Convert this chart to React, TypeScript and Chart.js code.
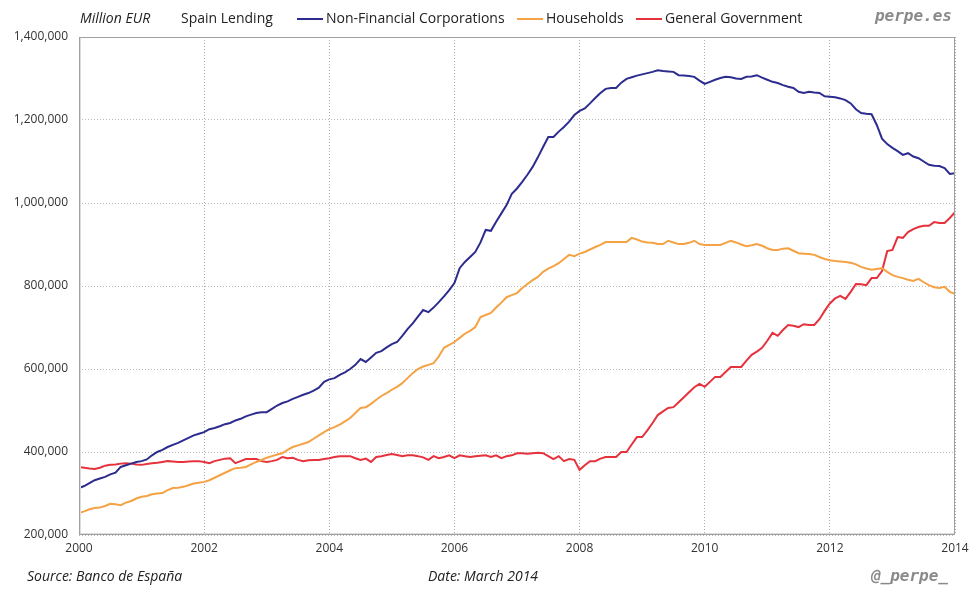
import React, { useEffect, useRef } from "react";
import { Chart, registerables } from "chart.js";

Chart.register(...registerables);

// Monthly values, Jan 2000 .. Jan 2014, in thousands of million EUR
const startYear = 2000;
const xTickYears = [2000, 2002, 2004, 2006, 2008, 2010, 2012, 2014];
const yTickValues = [200000, 400000, 600000, 800000, 1000000, 1200000, 1400000];

const nonFinancialCorporations = [
  313, 318, 325, 332, 336, 340, 346, 350, 364, 368, 372, 376,
  378, 382, 392, 400, 405, 412, 417, 422, 428, 434, 440, 444,
  448, 455, 458, 462, 467, 470, 476, 480, 486, 490, 494, 496,
  496, 504, 512, 518, 522, 528, 533, 538, 542, 548, 555, 569,
  575, 578, 586, 592, 600, 610, 624, 617, 628, 639, 643, 652,
  660, 665, 680, 696, 710, 726, 742, 737, 748, 761, 775, 790,
  807, 843, 858, 870, 882, 905, 935, 933, 955, 975, 995, 1022,
  1035, 1051, 1068, 1087, 1110, 1135, 1159, 1159, 1172, 1183, 1196, 1212,
  1222, 1228, 1240, 1253, 1265, 1275, 1277, 1277, 1290, 1299, 1303, 1307,
  1310, 1313, 1316, 1320, 1318, 1317, 1316, 1308, 1307, 1306, 1304, 1295,
  1287, 1292, 1297, 1301, 1304, 1303, 1300, 1299, 1304, 1305, 1308, 1302,
  1297, 1292, 1289, 1284, 1280, 1277, 1268, 1265, 1268, 1266, 1265, 1257,
  1256, 1255, 1252, 1248, 1240, 1226, 1217, 1215, 1214, 1188, 1155, 1142,
  1133, 1125, 1116, 1120, 1112, 1108, 1100, 1092, 1090, 1089, 1084, 1070,
  1072,
];

const households = [
  253, 257, 262, 265, 266, 270, 275, 274, 272, 278, 282, 288,
  292, 294, 298, 300, 301, 308, 313, 314, 316, 320, 324, 326,
  328, 332, 338, 344, 350, 356, 361, 362, 364, 370, 376, 381,
  386, 390, 394, 397, 405, 412, 416, 420, 424, 432, 440, 448,
  455, 460, 466, 474, 482, 494, 506, 508, 516, 526, 535, 542,
  550, 557, 566, 578, 590, 600, 606, 610, 614, 630, 651, 658,
  665, 675, 685, 692, 701, 725, 730, 735, 748, 760, 773, 778,
  783, 795, 805, 814, 822, 834, 842, 848, 855, 865, 875, 872,
  878, 882, 888, 894, 899, 906, 906, 906, 906, 906, 916, 912,
  907, 905, 904, 901, 901, 909, 905, 901, 901, 904, 909, 901,
  899, 899, 899, 899, 904, 909, 905, 900, 896, 898, 901, 897,
  891, 887, 887, 890, 891, 885, 879, 878, 877, 875, 870, 865,
  862, 860, 859, 858, 856, 852, 846, 842, 839, 841, 843, 834,
  826, 822, 819, 815, 812, 817, 809, 802, 797, 795, 798, 786,
  781,
];

const generalGovernment = [
  364, 362, 360, 359, 362, 367, 369, 370, 372, 373, 372, 370,
  369, 371, 373, 374, 376, 378, 377, 376, 376, 377, 378, 378,
  376, 373, 378, 381, 384, 385, 373, 378, 383, 383, 383, 378,
  376, 378, 381, 388, 385, 386, 381, 378, 380, 381, 381, 383,
  385, 388, 390, 390, 390, 385, 381, 384, 376, 388, 390, 393,
  395, 393, 390, 392, 392, 390, 387, 381, 390, 385, 388, 392,
  385, 392, 390, 388, 390, 391, 392, 388, 392, 385, 390, 392,
  397, 397, 396, 397, 398, 397, 390, 383, 390, 378, 383, 381,
  357, 368, 378, 378, 384, 388, 388, 388, 400, 400, 418, 436,
  436, 452, 470, 489, 498, 506, 508, 520, 532, 544, 556, 564,
  557, 569, 581, 581, 593, 605, 605, 605, 620, 634, 642, 651,
  668, 687, 680, 694, 706, 704, 701, 708, 706, 706, 720, 740,
  758, 770, 776, 769, 786, 805, 804, 802, 819, 819, 836, 884,
  887, 918, 916, 930, 937, 942, 945, 945, 954, 952, 952, 964,
  978,
];

const seriesNames = ["Non-Financial Corporations", "Households", "General Government"];
const seriesColors = ["#2c2c8e", "#f4a244", "#e5323c"];
const seriesValues = [nonFinancialCorporations, households, generalGovernment];

const FONT = "'Open Sans', 'DejaVu Sans', sans-serif";
const MONO = "'DejaVu Sans Mono', monospace";

const toPoints = (arr: number[]) =>
  arr.map((v, i) => ({ x: startYear + i / 12, y: v * 1000 }));

const decorPlugin = {
  id: "decor",
  afterDraw(chart: any) {
    const { ctx, chartArea } = chart;
    const { left, top, right, bottom } = chartArea;
    ctx.save();
    // plot border
    ctx.strokeStyle = "#a0a0a0";
    ctx.lineWidth = 1;
    ctx.strokeRect(left + 0.5, top + 0.5, right - left - 1, bottom - top - 1);
    ctx.strokeStyle = "#dcdcdc";
    ctx.beginPath();
    ctx.moveTo(left + 1.5, top + 1);
    ctx.lineTo(left + 1.5, bottom - 1);
    ctx.moveTo(left + 1, bottom - 1.5);
    ctx.lineTo(right - 1, bottom - 1.5);
    ctx.stroke();

    ctx.textBaseline = "middle";
    ctx.fillStyle = "#222";
    ctx.font = `italic 14px ${FONT}`;
    ctx.textAlign = "left";
    ctx.fillText("Million EUR", 80, 19);
    ctx.font = `14px ${FONT}`;
    ctx.fillText("Spain Lending", 181, 19);

    const legendX = [297, 517, 636];
    seriesNames.forEach((name, i) => {
      const x0 = legendX[i];
      ctx.strokeStyle = seriesColors[i];
      ctx.lineWidth = 2;
      ctx.beginPath();
      ctx.moveTo(x0, 19);
      ctx.lineTo(x0 + 26, 19);
      ctx.stroke();
      ctx.fillStyle = "#222";
      ctx.font = `14px ${FONT}`;
      ctx.fillText(name, x0 + 29, 19);
    });

    ctx.fillStyle = "#8a8a8a";
    ctx.font = `bold italic 16px ${MONO}`;
    ctx.textAlign = "right";
    ctx.fillText("perpe.es", 952, 17);
    ctx.fillText("@_perpe_", 948, 577);

    ctx.fillStyle = "#222";
    ctx.font = `italic 14px ${FONT}`;
    ctx.textAlign = "left";
    ctx.fillText("Source: Banco de España", 27, 577);
    ctx.fillText("Date: March 2014", 428, 577);
    ctx.restore();
  },
};

export default function App() {
  const canvasRef = useRef<HTMLCanvasElement | null>(null);

  useEffect(() => {
    document.body.style.margin = "0";
    const canvas = canvasRef.current;
    if (!canvas) return;
    const chart = new Chart(canvas, {
      type: "line",
      data: {
        datasets: seriesValues.map((vals, i) => ({
          label: seriesNames[i],
          data: toPoints(vals),
          borderColor: seriesColors[i],
          backgroundColor: seriesColors[i],
          borderWidth: 2,
          pointRadius: 0,
          tension: 0,
          fill: false,
        })),
      },
      options: {
        animation: false,
        responsive: false,
        devicePixelRatio: 1,
        layout: { padding: { top: 37, right: 25, bottom: 35, left: 0 } },
        plugins: {
          legend: { display: false },
          tooltip: { enabled: false },
        },
        scales: {
          x: {
            type: "linear",
            min: 2000,
            max: 2014,
            afterBuildTicks: (scale: any) => {
              scale.ticks = xTickYears.map((v) => ({ value: v }));
            },
            afterFit: (scale: any) => {
              scale.height = 30;
            },
            ticks: {
              callback: (v: any) => String(v),
              color: "#333",
              font: { family: FONT, size: 12 },
              padding: 6,
              maxRotation: 0,
              autoSkip: false,
            },
            grid: { color: "#aaaaaa", lineWidth: 1, drawTicks: false },
            border: { display: false, dash: [1, 2] },
          },
          y: {
            type: "linear",
            min: 200000,
            max: 1400000,
            afterBuildTicks: (scale: any) => {
              scale.ticks = yTickValues.map((v) => ({ value: v }));
            },
            afterFit: (scale: any) => {
              scale.width = 79;
            },
            ticks: {
              callback: (v: any) => Number(v).toLocaleString("en-US"),
              color: "#333",
              font: { family: FONT, size: 12 },
              padding: 11,
            },
            grid: { color: "#bbbbbb", lineWidth: 1, drawTicks: false },
            border: { display: false, dash: [1, 2] },
          },
        },
      },
      plugins: [decorPlugin],
    });
    return () => chart.destroy();
  }, []);

  return (
    <div style={{ position: "fixed", left: 0, top: 0, width: 980, height: 600, background: "#fff" }}>
      <canvas ref={canvasRef} width={980} height={600} />
    </div>
  );
}
